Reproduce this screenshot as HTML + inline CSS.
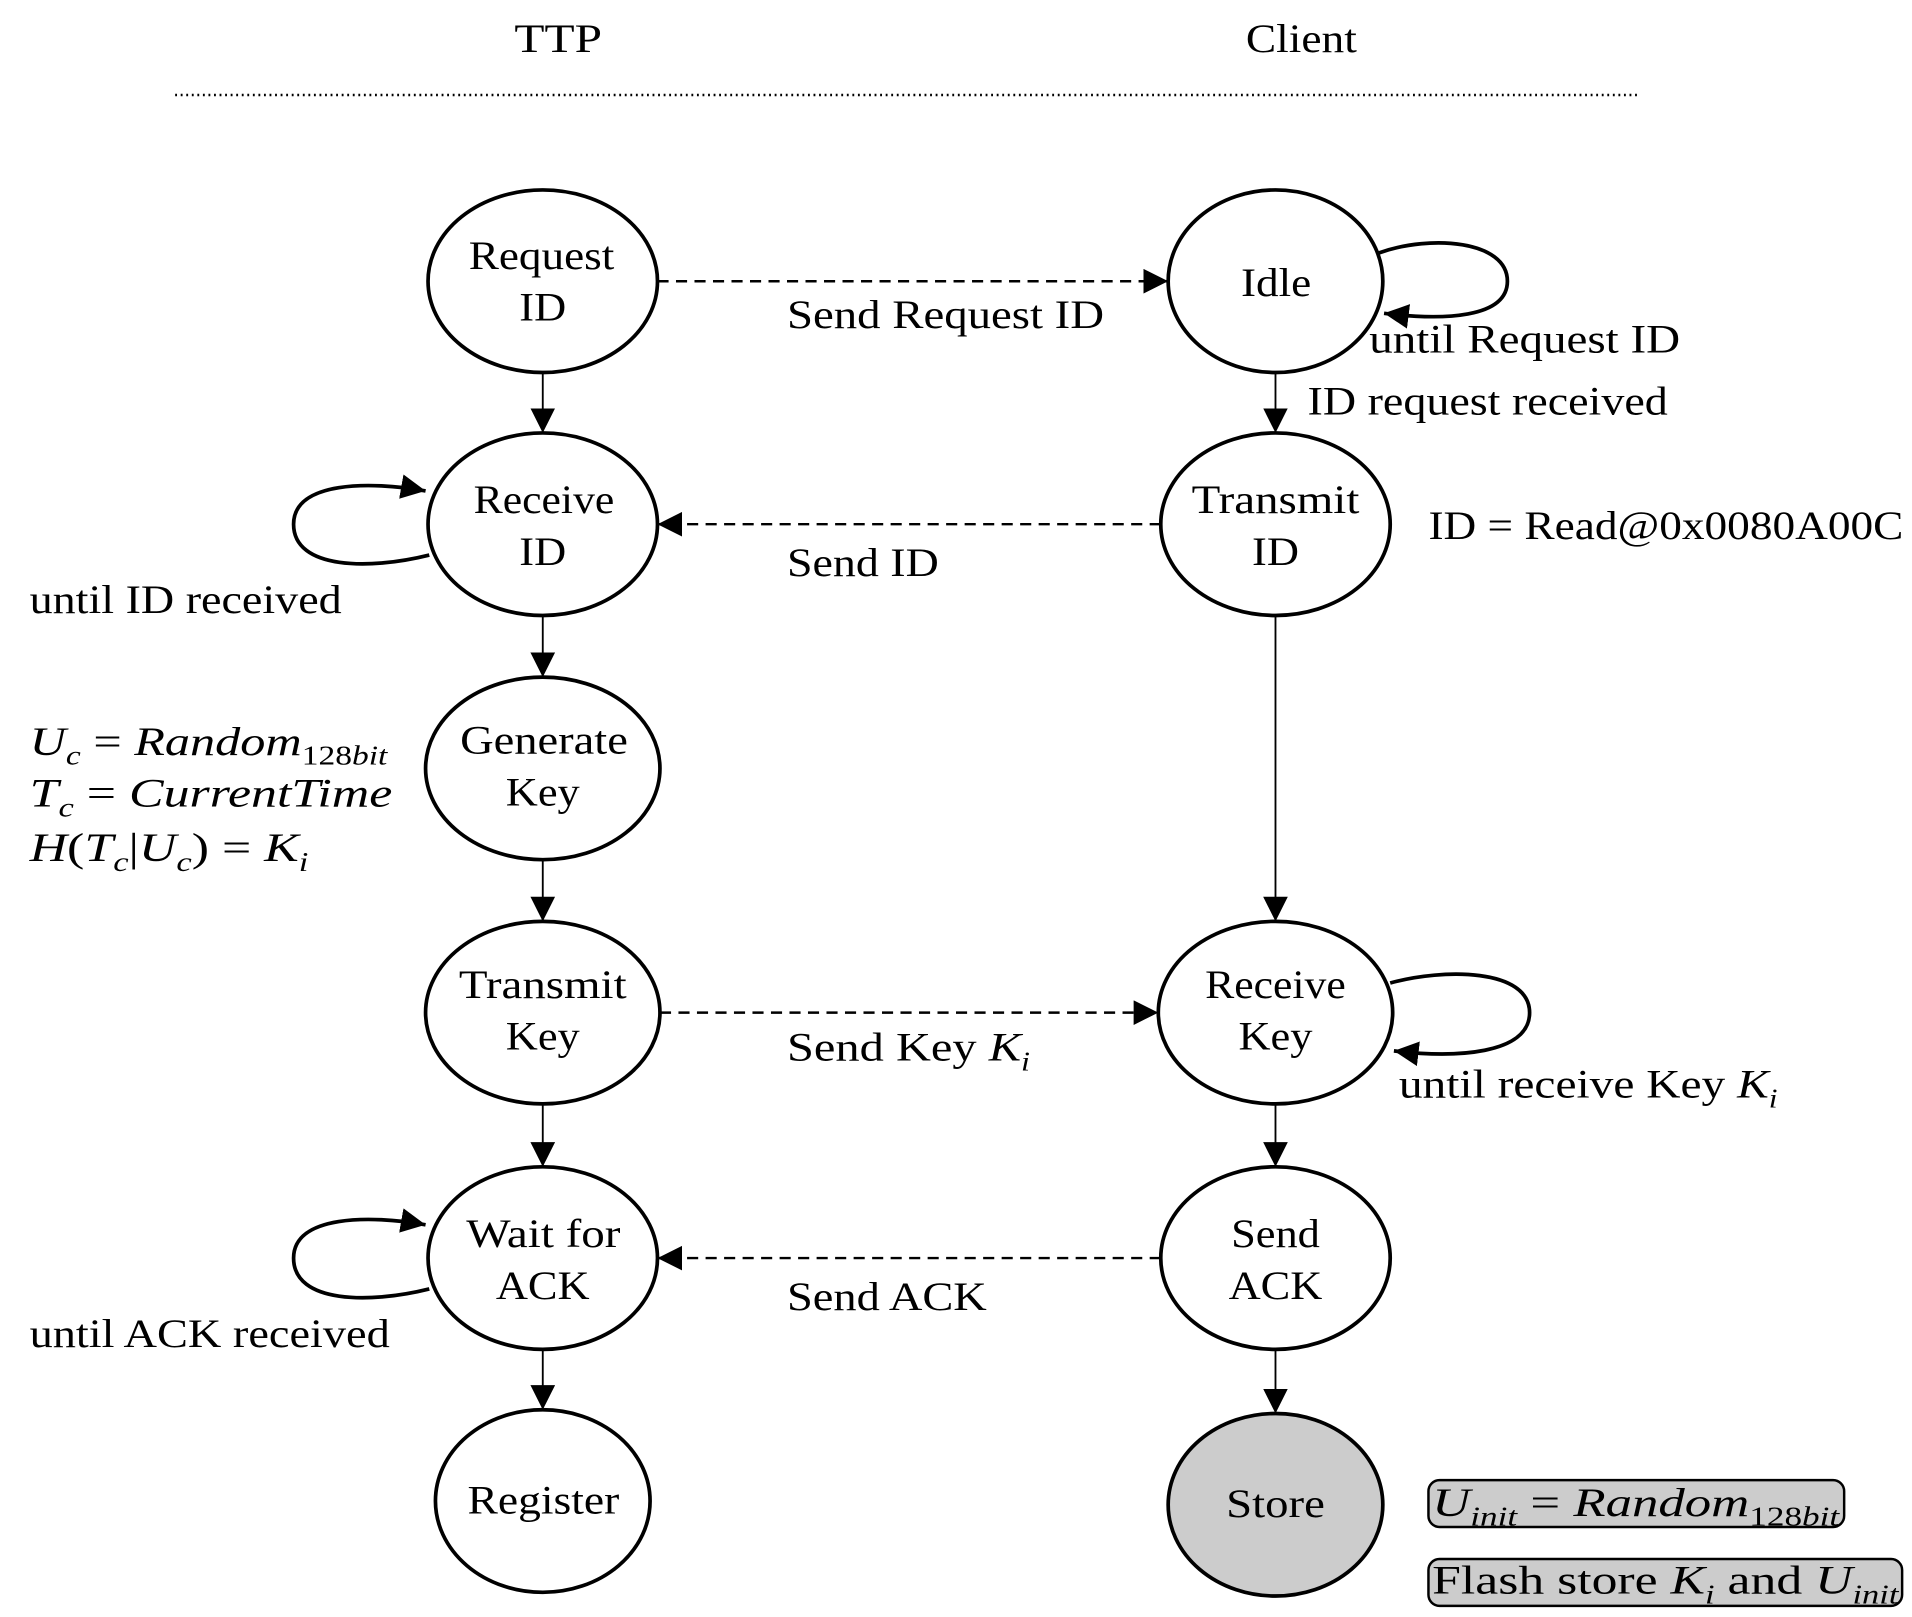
<!DOCTYPE html>
<html><head><meta charset="utf-8"><style>
html,body{margin:0;padding:0;background:#fff;}
svg{display:block;}
text{font-family:"Liberation Serif",serif;font-size:33px;fill:#000;}
.i{font-style:italic;}
</style></head><body>
<svg width="1912" height="1617" viewBox="0 0 1550 1311" preserveAspectRatio="none" xmlns="http://www.w3.org/2000/svg">
<defs>
<marker id="b" viewBox="0 0 10 10" refX="10" refY="5" markerWidth="20" markerHeight="20" markerUnits="userSpaceOnUse" orient="auto"><path d="M0,0L10,5L0,10z"/></marker>
</defs>
<text x="417" y="42" textLength="71" lengthAdjust="spacingAndGlyphs">TTP</text>
<text x="1010" y="42" textLength="90" lengthAdjust="spacingAndGlyphs">Client</text>
<line x1="142" y1="77" x2="1328" y2="77" stroke="#000" stroke-width="2" stroke-dasharray="1.5,3"/>
<g fill="#fff" stroke="#000" stroke-width="3">
<ellipse cx="440" cy="228" rx="93" ry="74"/>
<ellipse cx="440" cy="425" rx="93" ry="74"/>
<ellipse cx="440" cy="623" rx="95" ry="74"/>
<ellipse cx="440" cy="821" rx="95" ry="74"/>
<ellipse cx="440" cy="1020" rx="93" ry="74"/>
<ellipse cx="440" cy="1217" rx="87" ry="74"/>
<ellipse cx="1034" cy="228" rx="87" ry="74"/>
<ellipse cx="1034" cy="425" rx="93" ry="74"/>
<ellipse cx="1034" cy="821" rx="95" ry="74"/>
<ellipse cx="1034" cy="1020" rx="93" ry="74"/>
<ellipse cx="1034" cy="1220" rx="87" ry="74" fill="#ccc"/>
</g>
<g lengthAdjust="spacingAndGlyphs">
<text x="380" y="218" textLength="118" lengthAdjust="spacingAndGlyphs">Request</text><text x="421" y="260" textLength="38" lengthAdjust="spacingAndGlyphs">ID</text>
<text x="384" y="416" textLength="114" lengthAdjust="spacingAndGlyphs">Receive</text><text x="421" y="458" textLength="38" lengthAdjust="spacingAndGlyphs">ID</text>
<text x="373" y="611" textLength="136" lengthAdjust="spacingAndGlyphs">Generate</text><text x="410" y="653" textLength="60" lengthAdjust="spacingAndGlyphs">Key</text>
<text x="372" y="809" textLength="136" lengthAdjust="spacingAndGlyphs">Transmit</text><text x="410" y="851" textLength="60" lengthAdjust="spacingAndGlyphs">Key</text>
<text x="378" y="1011" textLength="125" lengthAdjust="spacingAndGlyphs">Wait for</text><text x="402" y="1053" textLength="76" lengthAdjust="spacingAndGlyphs">ACK</text>
<text x="379" y="1227" textLength="123" lengthAdjust="spacingAndGlyphs">Register</text>
<text x="1006" y="240" textLength="57" lengthAdjust="spacingAndGlyphs">Idle</text>
<text x="966" y="416" textLength="136" lengthAdjust="spacingAndGlyphs">Transmit</text><text x="1015" y="458" textLength="38" lengthAdjust="spacingAndGlyphs">ID</text>
<text x="977" y="809" textLength="114" lengthAdjust="spacingAndGlyphs">Receive</text><text x="1004" y="851" textLength="60" lengthAdjust="spacingAndGlyphs">Key</text>
<text x="998" y="1011" textLength="72" lengthAdjust="spacingAndGlyphs">Send</text><text x="996" y="1053" textLength="76" lengthAdjust="spacingAndGlyphs">ACK</text>
<text x="994" y="1230" textLength="80" lengthAdjust="spacingAndGlyphs">Store</text>
</g>
<g stroke="#000" stroke-width="1.5" marker-end="url(#b)">
<line x1="440" y1="302" x2="440" y2="351"/>
<line x1="440" y1="499" x2="440" y2="549"/>
<line x1="440" y1="697" x2="440" y2="747"/>
<line x1="440" y1="895" x2="440" y2="946"/>
<line x1="440" y1="1094" x2="440" y2="1143"/>
<line x1="1034" y1="302" x2="1034" y2="351"/>
<line x1="1034" y1="499" x2="1034" y2="747"/>
<line x1="1034" y1="895" x2="1034" y2="946"/>
<line x1="1034" y1="1094" x2="1034" y2="1146"/>
</g>
<g stroke="#000" stroke-width="2" stroke-dasharray="9,6" marker-end="url(#b)">
<line x1="533" y1="228" x2="947" y2="228"/>
<line x1="941" y1="425" x2="533" y2="425"/>
<line x1="535" y1="821" x2="939" y2="821"/>
<line x1="941" y1="1020" x2="533" y2="1020"/>
</g>
<g fill="none" stroke="#000" stroke-width="3" marker-end="url(#b)">
<path d="M1118,205 C1160,190 1222,195 1222,228 C1222,258 1170,260 1122,254"/>
<path d="M348,450 C300,462 238,462 238,425 C238,390 300,390 345,398"/>
<path d="M348,1045 C300,1057 238,1057 238,1020 C238,985 300,985 345,993"/>
<path d="M1127,797 C1170,785 1240,785 1240,821 C1240,855 1180,858 1130,852"/>
</g>
<text x="638" y="266" textLength="257" lengthAdjust="spacingAndGlyphs">Send Request ID</text>
<text x="1110" y="286" textLength="252" lengthAdjust="spacingAndGlyphs">until Request ID</text>
<text x="1060" y="336" textLength="292" lengthAdjust="spacingAndGlyphs">ID request received</text>
<text x="1158" y="437" textLength="385" lengthAdjust="spacingAndGlyphs">ID = Read@0x0080A00C</text>
<text x="638" y="467" textLength="123" lengthAdjust="spacingAndGlyphs">Send ID</text>
<text x="24" y="497" textLength="253" lengthAdjust="spacingAndGlyphs">until ID received</text>
<text x="24" y="612" textLength="290" lengthAdjust="spacingAndGlyphs"><tspan class="i">U</tspan><tspan class="i" font-size="22" dy="8">c</tspan><tspan dy="-8"> = </tspan><tspan class="i">Random</tspan><tspan font-size="22" dy="8">128</tspan><tspan class="i" font-size="22">bit</tspan></text>
<text x="24" y="654" textLength="294" lengthAdjust="spacingAndGlyphs"><tspan class="i">T</tspan><tspan class="i" font-size="22" dy="8">c</tspan><tspan dy="-8"> = </tspan><tspan class="i">CurrentTime</tspan></text>
<text x="24" y="698" textLength="226" lengthAdjust="spacingAndGlyphs"><tspan class="i">H</tspan>(<tspan class="i">T</tspan><tspan class="i" font-size="22" dy="8">c</tspan><tspan dy="-8">|</tspan><tspan class="i">U</tspan><tspan class="i" font-size="22" dy="8">c</tspan><tspan dy="-8">) = </tspan><tspan class="i">K</tspan><tspan class="i" font-size="22" dy="8">i</tspan></text>
<text x="638" y="860" textLength="197" lengthAdjust="spacingAndGlyphs">Send Key <tspan class="i">K</tspan><tspan class="i" font-size="22" dy="8">i</tspan></text>
<text x="1134" y="890" textLength="307" lengthAdjust="spacingAndGlyphs">until receive Key <tspan class="i">K</tspan><tspan class="i" font-size="22" dy="8">i</tspan></text>
<text x="638" y="1062" textLength="162" lengthAdjust="spacingAndGlyphs">Send ACK</text>
<text x="24" y="1092" textLength="292" lengthAdjust="spacingAndGlyphs">until ACK received</text>
<rect x="1158" y="1200" width="337" height="38" rx="9" fill="#ccc" stroke="#000" stroke-width="2"/>
<text x="1161" y="1229" textLength="330" lengthAdjust="spacingAndGlyphs"><tspan class="i">U</tspan><tspan class="i" font-size="22" dy="8">init</tspan><tspan dy="-8"> = </tspan><tspan class="i">Random</tspan><tspan font-size="22" dy="8">128</tspan><tspan class="i" font-size="22">bit</tspan></text>
<rect x="1158" y="1264" width="384" height="38" rx="9" fill="#ccc" stroke="#000" stroke-width="2"/>
<text x="1161" y="1292" textLength="378" lengthAdjust="spacingAndGlyphs">Flash store <tspan class="i">K</tspan><tspan class="i" font-size="22" dy="8">i</tspan><tspan dy="-8"> and </tspan><tspan class="i">U</tspan><tspan class="i" font-size="22" dy="8">init</tspan></text>
</svg>
</body></html>
